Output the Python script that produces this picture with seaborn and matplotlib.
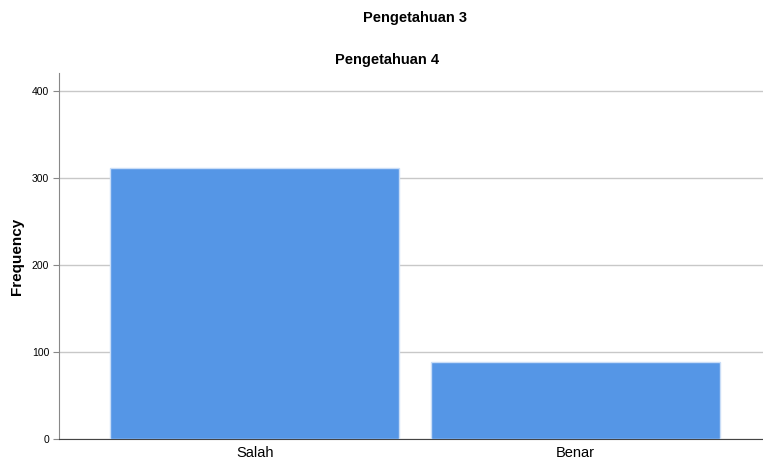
import matplotlib
matplotlib.use("Agg")
import matplotlib.pyplot as plt
import pandas as pd
import seaborn as sns

# data
categories = ["Salah", "Benar"]
frequency = [312, 88]
y_ticks = [0, 100, 200, 300, 400]

df = pd.DataFrame({"answer": categories, "freq": frequency})

sns.set_style("white")
plt.rcParams['font.family'] = ['Liberation Sans', 'DejaVu Sans']
plt.rcParams['text.color'] = 'black'
plt.rcParams['xtick.color'] = 'black'
plt.rcParams['ytick.color'] = 'black'
plt.rcParams['axes.labelcolor'] = 'black'

fig = plt.figure(figsize=(7.63, 4.71), dpi=100)
ax = fig.add_axes([59 / 763, 32 / 471, 704 / 763, 366 / 471])

sns.barplot(data=df, x="answer", y="freq", color="#5596E6", saturation=1,
            width=0.9, edgecolor="#c9ddf7", linewidth=1, ax=ax, zorder=3)

ax.set_ylim(0, 420.7)
ax.set_xlim(-0.61, 1.585)
ax.set_yticks(y_ticks)
ax.yaxis.grid(True, color="#c8c8c8", linewidth=1, zorder=0)
ax.set_axisbelow(True)

for s in ["top", "right"]:
    ax.spines[s].set_visible(False)
ax.spines["left"].set_color("#888888")
ax.spines["bottom"].set_color("#444444")

ax.tick_params(axis="y", labelsize=7.5, length=4, color="#888888", pad=3, direction="out", left=True)
ax.tick_params(axis="x", labelsize=10.5, length=0, pad=5)
ax.set_xlabel("")
ax.set_ylabel("Frequency", fontsize=11, fontweight="bold")
ax.yaxis.set_label_coords(-35 / 704, 0.5)

fig.text(415 / 763, 1 - 18 / 471, "Pengetahuan 3", ha="center", va="center",
         fontsize=10.5, fontweight="bold")
fig.text(387 / 763, 1 - 60 / 471, "Pengetahuan 4", ha="center", va="center",
         fontsize=10.5, fontweight="bold")

fig.savefig("out.png", dpi=100)
